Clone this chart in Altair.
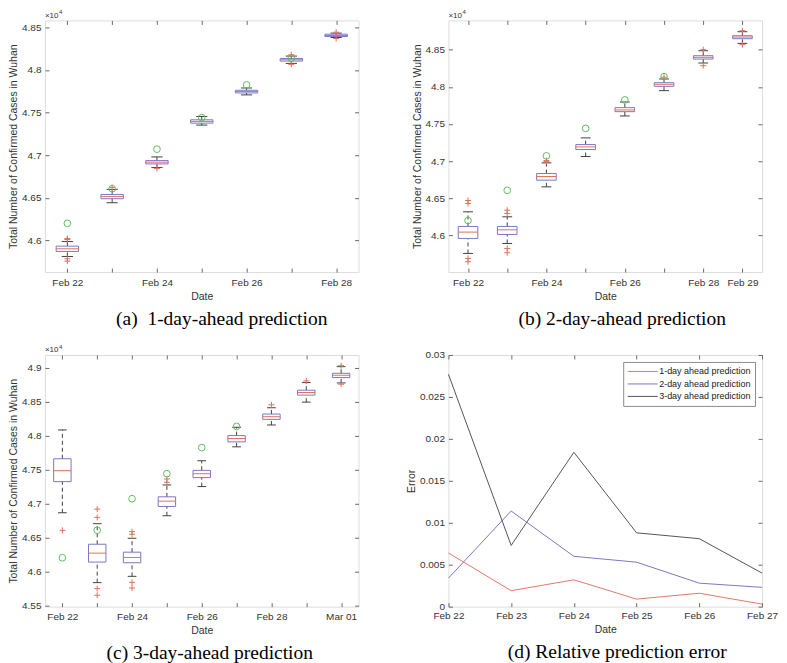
import altair as alt
import pandas as pd

# ---------------- data ----------------
# (a) 1-day-ahead prediction  (box summaries)
a_labels = ["Feb 22", "", "Feb 24", "", "Feb 26", "", "Feb 28"]
a_q1 = [45872, 46490, 46898, 47376, 47730, 48103, 48391]
a_med = [45903, 46517, 46918, 47396, 47746, 48119, 48403]
a_q3 = [45934, 46540, 46937, 47415, 47761, 48134, 48418]
a_lo = [45813, 46443, 46855, 47353, 47707, 48076, 48380]
a_hi = [45988, 46599, 46980, 47454, 47788, 48162, 48431]
a_out_i = [0, 0, 0, 0, 1, 2, 5, 5, 6, 6]
a_out_v = [46023, 46012, 45786, 45759, 46622, 46845, 48177, 48065, 48442, 48368]

# (b) 2-day-ahead prediction
b_labels = ["Feb 22", "", "Feb 24", "", "Feb 26", "", "Feb 28", "Feb 29"]
b_q1 = [45960, 46013, 46744, 47156, 47666, 48007, 48374, 48648]
b_med = [46045, 46076, 46793, 47192, 47689, 48034, 48397, 48670]
b_q3 = [46121, 46121, 46833, 47223, 47720, 48056, 48419, 48688]
b_lo = [45758, 45892, 46654, 47062, 47608, 47949, 48321, 48585]
b_hi = [46318, 46251, 46977, 47313, 47796, 48106, 48486, 48742]
b_out_i = [0, 0, 0, 0, 1, 1, 1, 1, 2, 2, 5, 6, 6, 7, 7]
b_out_v = [46470, 46430, 45691, 45646, 46340, 46296, 45825, 45767,
           47008, 46993, 48130, 48500, 48285, 48755, 48567]

# (c) 3-day-ahead prediction
c_labels = ["Feb 22", "", "Feb 24", "", "Feb 26", "", "Feb 28", "", "Mar 01"]
c_q1 = [47323, 46137, 46127, 46957, 47382, 47909, 48241, 48598, 48857]
c_med = [47484, 46269, 46205, 47035, 47440, 47958, 48280, 48637, 48891]
c_q3 = [47660, 46400, 46283, 47099, 47489, 48002, 48319, 48671, 48920]
c_lo = [46864, 45834, 45927, 46820, 47250, 47836, 48158, 48495, 48778]
c_hi = [48085, 46703, 46488, 47274, 47631, 48124, 48412, 48783, 49018]
c_out_i = [0, 1, 1, 1, 1, 2, 2, 2, 2, 3, 3, 6, 7, 8, 8]
c_out_v = [46605, 46918, 46796, 45746, 45648, 46586, 46547, 45839, 45756,
           47362, 47313, 48456, 48808, 49032, 48759]

# observed confirmed cases (green circles), Feb 22 .. Feb 27
observed = [46201, 46607, 47071, 47441, 47824, 48137]

# (d) relative prediction error
d_labels = ["Feb 22", "Feb 23", "Feb 24", "Feb 25", "Feb 26", "Feb 27"]
series_names = ["1-day ahead prediction", "2-day ahead prediction", "3-day ahead prediction"]
err1 = [0.0064, 0.0019, 0.0032, 0.0009, 0.0016, 0.0003]
err2 = [0.0034, 0.0114, 0.0060, 0.0053, 0.0028, 0.0023]
err3 = [0.0277, 0.0073, 0.0184, 0.0088, 0.0081, 0.0040]

# ---------------- style ----------------
FONT = "Liberation Sans"
SERIF = "Liberation Serif"
W, H = 314, 252
C_BOX = "#7b76c6"
C_MED = "#e0705a"
C_WHISK = "#404040"
C_OUT = "#e0705a"
C_OBS = "#5cbf5c"
C_FRAME = "#8c8c8c"
PLUS = "M-1,0L1,0M0,-1L0,1"


def ax(**kw):
    base = dict(domain=False, grid=False, ticks=True, tickSize=4, offset=-4,
                tickColor="#6a6a6a", tickWidth=1,
                labelFont=FONT, labelFontSize=10, labelColor="#333333", labelPadding=4,
                titleFont=FONT, titleFontSize=10.5, titleFontWeight="normal",
                titleColor="#333333", labelOverlap=False, labelFlush=False)
    base.update(kw)
    return alt.Axis(**base)


def caption(text, dx):
    return alt.TitleParams(text=text, orient="bottom", font=SERIF, fontSize=19.5,
                           fontWeight="normal", color="black", anchor="middle",
                           frame="group", dx=dx, offset=8)


def box_panel(labels, q1, med, q3, lo, hi, out_i, out_v, obs, ydom, yvals, cap, cap_dx):
    n = len(labels)
    idx = list(range(n))
    box = pd.DataFrame({"i": idx, "q1": q1, "med": med, "q3": q3, "lo": lo, "hi": hi})
    outs = pd.DataFrame({"i": out_i, "v": out_v})
    obsd = pd.DataFrame({"i": list(range(len(obs))), "v": obs})
    ex = pd.DataFrame({"t": ["×10"], "e": ["4"]})
    xs = alt.Scale(domain=[-0.5, n - 0.5], nice=False, zero=False)
    ys = alt.Scale(domain=ydom, nice=False, zero=False)
    lab = "[" + ",".join("'%s'" % s for s in labels) + "][datum.value]"
    ylab = "format(datum.value / 10000, '.2~f')"

    def X(f):
        return alt.X(f, type="quantitative", scale=xs, axis=None)

    def Y(f):
        return alt.Y(f, type="quantitative", scale=ys, axis=None)

    base = alt.Chart(box).transform_calculate(
        xl="datum.i - 0.25", xr="datum.i + 0.25",
        cl="datum.i - 0.125", cr="datum.i + 0.125")
    w_up = base.mark_rule(color=C_WHISK, strokeDash=[4, 3], strokeWidth=1).encode(
        x=X("i"), y=Y("q3"), y2="hi:Q")
    w_lo = base.mark_rule(color=C_WHISK, strokeDash=[4, 3], strokeWidth=1).encode(
        x=X("i"), y=Y("lo"), y2="q1:Q")
    cap_hi = base.mark_rule(color=C_WHISK, strokeWidth=1).encode(
        x=X("cl"), x2="cr:Q", y=Y("hi"))
    cap_lo = base.mark_rule(color=C_WHISK, strokeWidth=1).encode(
        x=X("cl"), x2="cr:Q", y=Y("lo"))
    rect = base.mark_rect(fillOpacity=0, stroke=C_BOX, strokeWidth=1).encode(
        x=X("xl"), x2="xr:Q", y=Y("q1"), y2="q3:Q")
    medr = base.mark_rule(color=C_MED, strokeWidth=1).encode(
        x=X("xl"), x2="xr:Q", y=Y("med"))
    outp = alt.Chart(outs).mark_point(shape=PLUS, filled=False, stroke=C_OUT,
                                      size=36, strokeWidth=1, opacity=1).encode(
        x=X("i"), y=Y("v"))
    obsp = alt.Chart(obsd).mark_point(shape="circle", filled=False, stroke=C_OBS,
                                      size=45, strokeWidth=1, opacity=1).encode(
        x=X("i"), y=Y("v"))
    axes_main = alt.Chart(box).mark_point(opacity=0).encode(
        x=alt.X("i:Q", scale=xs, axis=ax(orient="bottom", values=idx, labelExpr=lab,
                                          title="Date", labelPadding=5, titlePadding=4)),
        y=alt.Y("med:Q", scale=ys, axis=ax(orient="left", values=yvals, labelExpr=ylab,
                                            title="Total Number of Confirmed Cases in Wuhan",
                                            titlePadding=3)))
    axes_mirror = alt.Chart(box).mark_point(opacity=0).encode(
        x=alt.X("i:Q", scale=xs, axis=ax(orient="top", values=idx, labels=False, title=None)),
        y=alt.Y("med:Q", scale=ys, axis=ax(orient="right", values=yvals, labels=False, title=None)))
    exp1 = alt.Chart(ex).mark_text(align="left", baseline="alphabetic", font=FONT,
                                   fontSize=8, color="#333333").encode(
        text="t:N", x=alt.value(0), y=alt.value(-2.5))
    exp2 = alt.Chart(ex).mark_text(align="left", baseline="alphabetic", font=FONT,
                                   fontSize=6, color="#333333").encode(
        text="e:N", x=alt.value(14), y=alt.value(-6))
    return alt.layer(w_up, w_lo, cap_hi, cap_lo, rect, medr, outp, obsp,
                     axes_main, axes_mirror, exp1, exp2).resolve_axis(
        x="independent", y="independent").properties(
        width=W, height=H, title=caption(cap, cap_dx))


yv_ab = [46000, 46500, 47000, 47500, 48000, 48500]
yv_c = [45500, 46000, 46500, 47000, 47500, 48000, 48500, 49000]

pa = box_panel(a_labels, a_q1, a_med, a_q3, a_lo, a_hi, a_out_i, a_out_v, observed,
               [45630, 48580], yv_ab, "(a)\u00a0\u00a01-day-ahead prediction", 20)
pb = box_panel(b_labels, b_q1, b_med, b_q3, b_lo, b_hi, b_out_i, b_out_v, observed,
               [45507, 48894], yv_ab, "(b) 2-day-ahead prediction", 17)
pc = box_panel(c_labels, c_q1, c_med, c_q3, c_lo, c_hi, c_out_i, c_out_v, observed,
               [45480, 49190], yv_c, "(c) 3-day-ahead prediction", 8)

# panel (d)
rows = []
for name, vals in zip(series_names, [err1, err2, err3]):
    for i, v in enumerate(vals):
        rows.append({"i": i, "err": v, "s": name})
dd = pd.DataFrame(rows)
xsd = alt.Scale(domain=[0, len(d_labels) - 1], nice=False, zero=False)
ysd = alt.Scale(domain=[0, 0.03], nice=False)
d_idx = list(range(len(d_labels)))
d_lab = "[" + ",".join("'%s'" % s for s in d_labels) + "][datum.value]"
d_yv = [0, 0.005, 0.01, 0.015, 0.02, 0.025, 0.03]

lines = alt.Chart(dd).mark_line(strokeWidth=1).encode(
    x=alt.X("i:Q", scale=xsd, axis=ax(orient="bottom", values=d_idx, labelExpr=d_lab,
                                       title="Date", labelPadding=4, titlePadding=4)),
    y=alt.Y("err:Q", scale=ysd, axis=ax(orient="left", values=d_yv, format=".3~f",
                                         title="Error", titlePadding=3)),
    color=alt.Color("s:N", scale=alt.Scale(domain=series_names,
                                           range=["#e07a66", "#7b77c4", "#555555"]),
                    legend=alt.Legend(title=None, orient="top-right", offset=7,
                                      strokeColor="#8c8c8c", fillColor="white",
                                      padding=4, symbolType="M-3,0L3,0", symbolSize=100,
                                      symbolOffset=10, labelOffset=11,
                                      symbolStrokeWidth=1, labelFont=FONT,
                                      labelFontSize=9, labelColor="#222222",
                                      rowPadding=1.5)))
d_mirror = alt.Chart(dd).mark_point(opacity=0).encode(
    x=alt.X("i:Q", scale=xsd, axis=ax(orient="top", values=d_idx, labels=False, title=None)),
    y=alt.Y("err:Q", scale=ysd, axis=ax(orient="right", values=d_yv, labels=False, title=None)))
pd_ = alt.layer(lines, d_mirror).resolve_axis(x="independent", y="independent").properties(
    width=W, height=H, title=caption("(d) Relative prediction error", 12))

chart = alt.concat(pa, pb, pc, pd_, columns=2, spacing={"row": 83, "column": 90},
                   bounds="flush").resolve_legend(color="independent").configure_view(
    stroke=C_FRAME, strokeWidth=1).configure(background="white").properties(padding=0)

chart.save("out.html", embed_options={"renderer": "svg", "actions": False})
